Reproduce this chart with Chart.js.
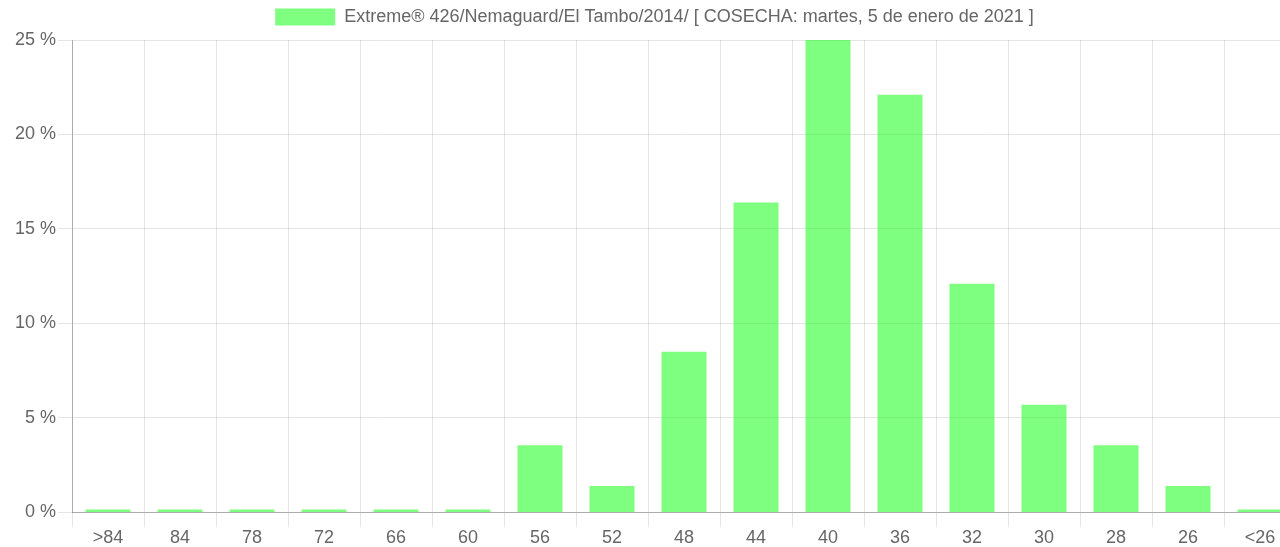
<!DOCTYPE html>
<html>
<head>
<meta charset="utf-8">
<script src="https://cdn.jsdelivr.net/npm/chart.js@4/dist/chart.umd.min.js"></script>
<style>
html,body{margin:0;padding:0;overflow:hidden;background:#fff;}
#wrap{width:1308px;height:547px;}
</style>
</head>
<body>
<div id="wrap"><canvas id="c" width="1308" height="547"></canvas></div>
<script>
const categories = [">84","84","78","72","66","60","56","52","48","44","40","36","32","30","28","26","<26"];
const seriesLabel = "Extreme® 426/Nemaguard/El Tambo/2014/ [ COSECHA: martes, 5 de enero de 2021 ]";
const values = [0.15,0.15,0.15,0.15,0.15,0.15,3.55,1.4,8.5,16.4,25,22.1,12.1,5.7,3.55,1.4,0.15];
const yTicks = [0,5,10,15,20,25];

Chart.defaults.font.family = "'Liberation Sans', Arial, sans-serif";
Chart.defaults.font.size = 18;
Chart.defaults.color = '#666';

const legendGap = {
  id: 'legendGap',
  beforeLayout(chart) {
    const lg = chart.legend;
    if (lg && !lg._gapPatched) {
      const orig = lg.fit;
      lg.fit = function () { orig.call(this); this.height += 4; };
      lg._gapPatched = true;
    }
  }
};

new Chart(document.getElementById('c'), {
  type: 'bar',
  data: {
    labels: categories,
    datasets: [{
      label: seriesLabel,
      data: values,
      backgroundColor: 'rgba(0,255,0,0.5)',
      borderWidth: 0,
      barPercentage: 0.625,
      categoryPercentage: 1.0
    }]
  },
  plugins: [legendGap],
  options: {
    responsive: false,
    animation: false,
    layout: { padding: { left: 13, right: 12, top: 0, bottom: -2 } },
    plugins: {
      legend: {
        labels: { boxWidth: 60, boxHeight: 17, font: { size: 18 }, color: '#666', padding: 8 }
      },
      tooltip: { enabled: false }
    },
    scales: {
      x: {
        grid: { color: 'rgba(0,0,0,0.1)', tickLength: 15, offset: true },
        border: { color: 'rgba(0,0,0,0.25)' },
        ticks: { padding: 0, font: { size: 18 } }
      },
      y: {
        min: 0, max: 25,
        afterBuildTicks: (s) => { s.ticks = yTicks.map(v => ({ value: v })); },
        grid: { color: 'rgba(0,0,0,0.1)', tickLength: 14 },
        border: { color: 'rgba(0,0,0,0.25)' },
        ticks: { callback: v => v + ' %', padding: 2, font: { size: 18 } }
      }
    }
  }
});
</script>
</body>
</html>
